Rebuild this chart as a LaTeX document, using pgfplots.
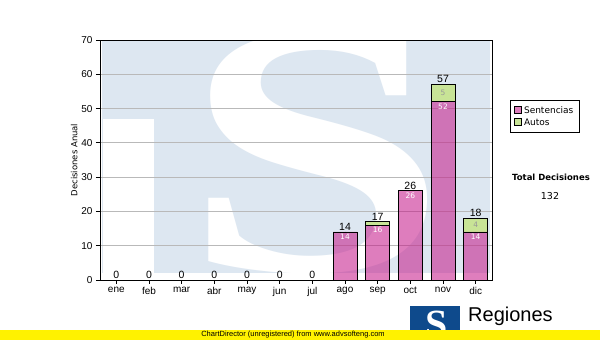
\documentclass[border=0pt]{standalone}
\usepackage{pgfplots}
\pgfplotsset{compat=1.18}
\usepackage{fontspec}
\setmainfont{DejaVu Sans}
\newfontfamily\arial{Liberation Sans}
\newfontfamily\serifS{Liberation Serif}
\definecolor{sent}{RGB}{196,20,135}
\definecolor{autos}{RGB}{200,228,150}
\definecolor{wm}{RGB}{221,231,241}
\definecolor{logo}{RGB}{14,74,140}
\definecolor{gridc}{RGB}{185,185,185}
\pgfplotstableread{
x s a
0 0 0
1 0 0
2 0 0
3 0 0
4 0 0
5 0 0
6 0 0
7 14 0
8 16 1
9 26 0
10 52 5
11 14 4
}\datatable
\pgfplotstableread{
x y lab
0 0 0
1 0 0
2 0 0
3 0 0
4 0 0
5 0 0
6 0 0
7 14 14
8 17 17
9 26 26
10 57 57
11 18 18
}\totals
\pgfplotstableread{
x y lab
7 14 14
8 16 16
9 26 26
10 52 52
11 14 14
}\sentlab
\pgfplotstableread{
x y lab
10 54.5 5
11 16 4
}\autolab
\begin{document}
\begin{tikzpicture}[x=1pt,y=1pt]
\path (0,0) rectangle (600,340);
% watermark
\begin{scope}
\clip (100,60) rectangle (492,300);
\fill[wm] (102,67) rectangle (490,299);
\fill[white] (103,67) rectangle (154,221);
\node[anchor=base, xscale=1.32, text=white, inner sep=0pt, font=\fontsize{360}{360}\selectfont\serifS\bfseries] at (316,69) {S};
\end{scope}
\begin{axis}[
  at={(100pt,60pt)}, anchor=south west, scale only axis,
  width=392pt, height=240pt,
  ybar stacked, bar width=24pt,
  xmin=-0.5, xmax=11.5, ymin=0, ymax=70,
  xtick={0,...,11},
  xticklabels={ene,feb,mar,abr,may,jun,jul,ago,sep,oct,nov,dic},
  ytick={0,10,...,70},
  tick align=outside, tick pos=left, major tick length=4pt,
  ymajorgrids, grid style={gridc, line width=0.8pt},
  axis line style={black, line width=0.8pt},
  tick style={black, line width=0.8pt},
  /pgf/number format/assume math mode=true,
  ticklabel style={font=\arial\fontsize{10}{12}\selectfont},
  ylabel={Decisiones Anual},
  ylabel style={font=\fontsize{8.5}{10}\selectfont, at={(axis description cs:-0.066,0.5)}, anchor=center},
  legend style={at={(rel axis cs:1.046,0.75)}, anchor=north west, draw=black, line width=0.8pt,
     font=\fontsize{9}{11}\selectfont, inner xsep=4pt, inner ysep=4pt, row sep=0pt,
     legend cell align=left},
  legend image code/.code={\draw[#1, draw=black, line width=0.6pt] (0pt,-3pt) rectangle (7pt,4pt);},
]
\addplot[fill=sent, fill opacity=0.55, draw=black, line width=0.8pt, draw opacity=1] table[x=x,y=s] {\datatable};
\addlegendentry{Sentencias}
\addplot[fill=autos, draw=black, line width=0.8pt] table[x=x,y=a] {\datatable};
\addlegendentry{Autos}
\end{axis}
\begin{axis}[
  at={(100pt,60pt)}, anchor=south west, scale only axis,
  width=392pt, height=240pt, hide axis,
  xmin=-0.5, xmax=11.5, ymin=0, ymax=70,
]
\addplot[only marks, mark=*, mark size=0pt, mark options={draw=none,fill=none},
  nodes near coords, point meta=explicit symbolic,
  nodes near coords style={anchor=south, inner sep=1.5pt, text=black, font=\arial\fontsize{10.5}{12}\selectfont}]
  table[x=x,y=y,meta=lab] {\totals};
\addplot[only marks, mark=*, mark size=0pt, mark options={draw=none,fill=none},
  nodes near coords, point meta=explicit symbolic,
  nodes near coords style={anchor=north, inner sep=2pt, text=white, font=\fontsize{7.5}{9}\selectfont}]
  table[x=x,y=y,meta=lab] {\sentlab};
\addplot[only marks, mark=*, mark size=0pt, mark options={draw=none,fill=none},
  nodes near coords, point meta=explicit symbolic,
  nodes near coords style={anchor=center, inner sep=0pt, text=black!40, font=\fontsize{7.5}{9}\selectfont}]
  table[x=x,y=y,meta=lab] {\autolab};
\end{axis}
% total box
\node[font=\bfseries\fontsize{8.5}{10}\selectfont] at (551,163) {Total Decisiones};
\node[font=\fontsize{9.5}{11}\selectfont] at (550,144) {132};
% logo
\fill[logo] (410,0) rectangle (460,34);
\node[text=white, font=\fontsize{40}{40}\selectfont\serifS\bfseries, inner sep=0pt] at (437,16) {S};
\node[anchor=west, font=\arial\fontsize{20}{22}\selectfont, inner sep=0pt] at (468,24) {Regiones};
% yellow band
\fill[yellow] (0,0) rectangle (600,10);
\node[font=\arial\fontsize{7.5}{8}\selectfont, inner sep=0pt] at (293,5) {ChartDirector (unregistered) from www.advsofteng.com};
\end{tikzpicture}
\end{document}
